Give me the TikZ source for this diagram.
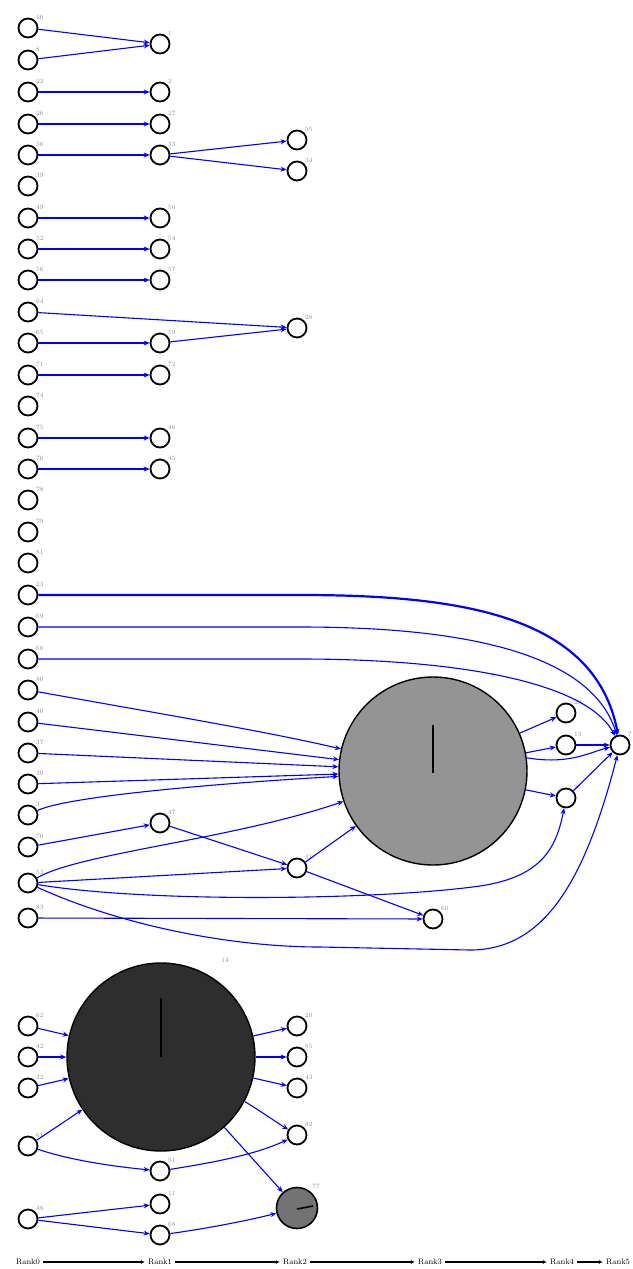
\documentclass[tikz,border=0pt]{standalone}
\usetikzlibrary{arrows.meta}
\begin{document}
\begin{tikzpicture}[x=1pt,y=-1pt,
  v/.style={circle, draw=black, line width=1.8pt, minimum size=19pt, inner sep=0pt, fill=white},
  lab/.style={text=black!45, font=\fontsize{6.5}{6.5}\selectfont, inner sep=0.5pt},
  e/.style={draw=blue, line width=1.1pt, -{Stealth[length=6pt,width=5pt]}},
  et/.style={e, line width=2.2pt},
  big/.style={circle, draw=black, line width=1.4pt, inner sep=0pt},
  rk/.style={font=\fontsize{8}{8}\selectfont, inner sep=3pt},
  ra/.style={draw=black, line width=1.6pt, -{Latex[length=4pt,width=4pt]}}]
\useasboundingbox (0,0) rectangle (632,1269);
% left column
\foreach \n/\y in {10/28,8/60,22/92,26/124,36/155,39/186,49/218,52/249,56/280,64/312,65/343,71/375,74/406,75/438,76/469,78/500,79/532,81/563,23/595,69/627,66/659,80/690,40/722,37/753,30/784,3/815,70/847,53/883,83/918}
  {\node[v,label={[lab]45:\n}] (a\n) at (28,\y) {};}
% second column
\foreach \n/\y in {1/44,2/92,27/124,33/155,50/218,54/249,57/280,59/343,72/375,46/438,45/469,47/823}
  {\node[v,label={[lab]45:\n}] (b\n) at (160,\y) {};}
% third column
\foreach \n/\y in {55/140,34/171,28/328,31/868}
  {\node[v,label={[lab]45:\n}] (c\n) at (297,\y) {};}
% big node 8
\node[big, fill=black!42, minimum size=188pt] (n8) at (433,771) {};
\node[lab] at (493,675) {8};
\draw[line width=1.8pt] (433,725) -- (433,773);
\node[v,label={[lab]45:29}] (n29) at (566,713) {};
\node[v,label={[lab]45:13}] (n13) at (566,745) {};
\node[v,label={[lab]45:9}] (n9) at (566,798) {};
\node[v,label={[lab]45:7}] (n7) at (620,745) {};
\node[v,label={[lab]45:60}] (n60) at (433,919) {};
% bottom group
\node[big, fill=black!82, minimum size=188pt] (n14) at (161,1057) {};
\node[lab] at (225,960) {14};
\draw[line width=1.8pt] (161,998) -- (161,1057);
\foreach \n/\y in {62/1026,42/1057,32/1088,61/1146,48/1219}
  {\node[v,label={[lab]45:\n}] (d\n) at (28,\y) {};}
\foreach \n/\y in {51/1171,11/1204,68/1235}
  {\node[v,label={[lab]45:\n}] (f\n) at (160,\y) {};}
\foreach \n/\y in {20/1026,85/1057,43/1088,82/1135}
  {\node[v,label={[lab]45:\n}] (g\n) at (297,\y) {};}
\node[big, line width=1.6pt, fill=black!55, minimum size=41pt] (g77) at (297,1208) {};
\node[lab] at (316,1186) {77};
\draw[line width=1.6pt] (297,1209) -- (313,1206);
% top edges
\draw[e] (a10) -- (b1);
\draw[e] (a8) -- (b1);
\draw[e] (a22) -- (b2);
\draw[e] (a26) -- (b27);
\draw[et] (a36) -- (b33);
\draw[e] (b33) -- (c55);
\draw[e] (b33) -- (c34);
\draw[e] (a49) -- (b50);
\draw[et] (a52) -- (b54);
\draw[e] (a56) -- (b57);
\draw[e] (a64) -- (c28);
\draw[e] (a65) -- (b59);
\draw[e] (b59) -- (c28);
\draw[et] (a71) -- (b72);
\draw[e] (a75) -- (b46);
\draw[et] (a76) -- (b45);
% middle edges into 7
\draw[et] (a23) -- (300,595) .. controls (460,595) and (595,615) .. (n7);
\draw[e] (a69) -- (300,627) .. controls (455,627) and (590,650) .. (n7);
\draw[e] (a66) -- (300,659) .. controls (450,659) and (585,680) .. (n7);
% into 8
\draw[e] (a80) .. controls (150,712) and (270,732) .. (n8);
\draw[e] (a40) -- (n8);
\draw[e] (a37) -- (n8);
\draw[e] (a30) -- (n8);
\draw[e] (a3) .. controls (70,795) and (240,782) .. (n8);
\draw[e] (a70) -- (b47);
\draw[e] (b47) -- (c31);
\draw[e] (a53) .. controls (80,853) and (230,840) .. (n8);
\draw[e] (a53) -- (c31);
\draw[e] (c31) -- (n8);
\draw[e] (c31) -- (n60);
\draw[e] (a83) -- (n60);
\draw[e] (a53) .. controls (150,903) and (380,900) .. (480,886) .. controls (540,877) and (556,850) .. (n9);
\draw[e] (a53) .. controls (120,925) and (230,947) .. (320,947) -- (470,950) .. controls (545,950) and (585,880) .. (n7);
% out of 8
\draw[e] (n8) -- (n29);
\draw[e] (n8) -- (n13);
\draw[e] (n8) -- (n9);
\draw[e] (n8.{8}) .. controls (570,765) and (590,752) .. (n7);
\draw[e] (n13) -- (n7);
\draw[e] (n9) -- (n7);
% bottom edges
\draw[e] (d62) -- (n14);
\draw[e] (d42) -- (n14);
\draw[e] (d32) -- (n14);
\draw[e] (d61) -- (n14);
\draw[e] (d61) .. controls (70,1160) and (110,1166) .. (f51);
\draw[e] (n14) -- (g20);
\draw[e] (n14) -- (g85);
\draw[e] (n14) -- (g43);
\draw[e] (n14.{-28}) .. controls (262,1112) and (276,1122) .. (g82);
\draw[e] (n14) -- (g77);
\draw[e] (f51) .. controls (210,1163) and (255,1155) .. (g82);
\draw[e] (d48) -- (f11);
\draw[e] (d48) -- (f68);
\draw[e] (f68) .. controls (210,1228) and (250,1220) .. (g77);
% rank axis
\node[rk] (r0) at (28,1262) {Rank0};
\node[rk] (r1) at (160,1262) {Rank1};
\node[rk] (r2) at (295,1262) {Rank2};
\node[rk] (r3) at (430,1262) {Rank3};
\node[rk] (r4) at (562,1262) {Rank4};
\node[rk] (r5) at (618,1262) {Rank5};
\draw[ra] (r0) -- (r1);
\draw[ra] (r1) -- (r2);
\draw[ra] (r2) -- (r3);
\draw[ra] (r3) -- (r4);
\draw[ra] (r4) -- (r5);
\end{tikzpicture}
\end{document}
